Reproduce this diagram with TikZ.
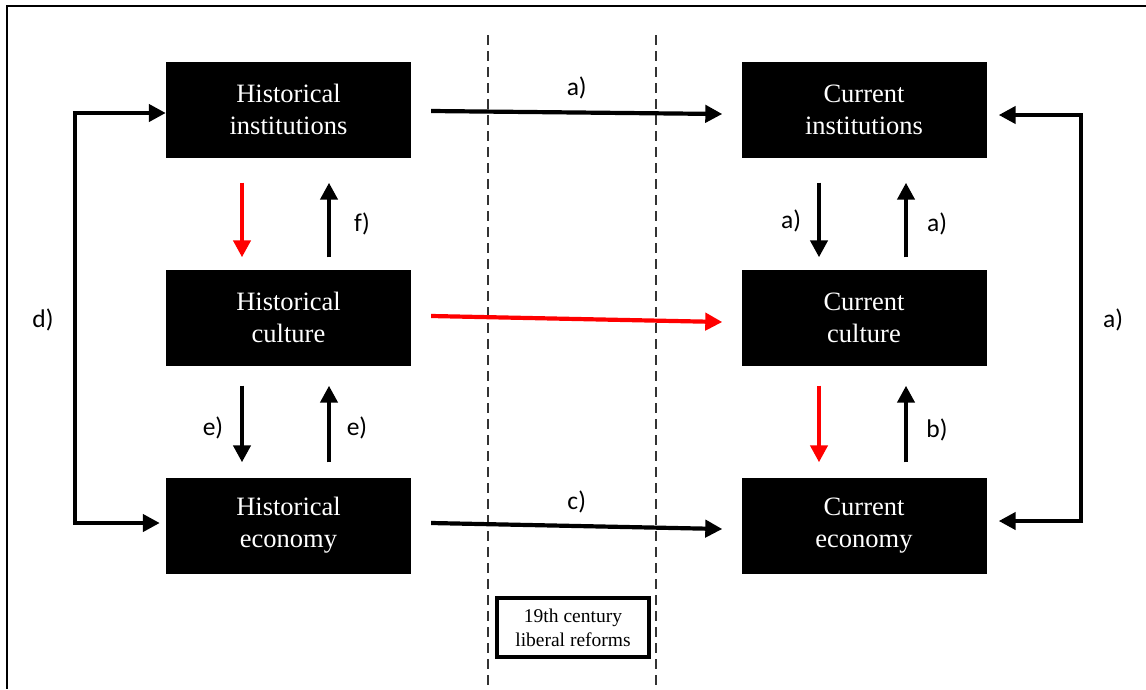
\documentclass[tikz,border=0pt]{standalone}
\usepackage{fontspec}
\setmainfont{Liberation Serif}
\newfontfamily\labfont{Carlito}
\usetikzlibrary{arrows.meta,calc}
\begin{document}
\begin{tikzpicture}[x=1pt,y=-1pt,
  blk/.style={fill=black,text=white,minimum width=245pt,minimum height=96pt,inner sep=0pt,align=center,font=\fontsize{26.5}{32}\selectfont},
  arr/.style={line width=4.2pt,-{Triangle[length=17pt,width=17pt]}},
  redarr/.style={arr,red},
  lab/.style={font=\labfont\fontsize{25.5}{28}\selectfont},
  dashln/.style={draw=black!80,line width=2pt,dash pattern=on 10pt off 6pt}]
\useasboundingbox (0,0) rectangle (1146,689);
\draw[line width=2.2pt] (1146,6) -- (7,6) -- (7,689);
% dashed lines
\coordinate (d1t) at (488,35); \coordinate (d1b) at (488,689);
\coordinate (d2t) at (656,35); \coordinate (d2b) at (656,689);
\draw[dashln] (d1t) -- (d1b);
\draw[dashln] (d2t) -- (d2b);
% boxes
\node[blk] (hi) at (288.5,109.5) {Historical\\institutions};
\node[blk] (hc) at (288.5,317.5) {Historical\\culture};
\node[blk] (he) at (288.5,525.5) {Historical\\economy};
\node[blk] (ci) at (864,109.5) {Current\\institutions};
\node[blk] (cc) at (864,317.5) {Current\\culture};
\node[blk] (ce) at (864,525.5) {Current\\economy};
\node[draw,line width=3.5pt,fill=white,minimum width=152pt,minimum height=59pt,align=center,font=\fontsize{19.5}{24}\selectfont] (ref) at (573,627.5) {19th century\\liberal reforms};
% horizontal arrows
\draw[arr] ($(hi.east)+(20,1.5)$) -- ($(ci.west)+(-19,4.5)$) node[lab,midway,above=8pt] (la1) {a)};
\draw[redarr] ($(hc.east)+(20,-1.5)$) -- ($(cc.west)+(-19,4.5)$);
\draw[arr] ($(he.east)+(20,-2.5)$) -- ($(ce.west)+(-19,3.5)$) node[lab,midway,above=8pt] (lc) {c)};
% left vertical arrows
\draw[redarr] ($(hi.south)+(-46.5,25)$) -- ($(hc.north)+(-46.5,-12)$);
\draw[arr] ($(hc.north)+(40.5,-12)$) -- ($(hi.south)+(40.5,25)$);
\node[lab] (lf) at (362,224) {f)};
\draw[arr] ($(hc.south)+(-46.5,20)$) -- ($(he.north)+(-46.5,-15)$);
\draw[arr] ($(he.north)+(40.5,-15)$) -- ($(hc.south)+(40.5,20)$);
\node[lab] (le1) at (213,428) {e)};
\node[lab] (le2) at (357,428) {e)};
% right vertical arrows
\draw[arr] ($(ci.south)+(-45,25)$) -- ($(cc.north)+(-45,-12)$);
\draw[arr] ($(cc.north)+(42,-12)$) -- ($(ci.south)+(42,25)$);
\node[lab] (la2) at (791,221) {a)};
\node[lab] (la3) at (937,224) {a)};
\draw[redarr] ($(cc.south)+(-45,20)$) -- ($(ce.north)+(-45,-15)$);
\draw[arr] ($(ce.north)+(42,-15)$) -- ($(cc.south)+(42,20)$);
\node[lab] (lb) at (937,430) {b)};
% d) bracket
\coordinate (lt) at (75,113);
\coordinate (lb2) at (75,523);
\draw[line width=4.2pt] (lt) -- (lb2);
\draw[arr] ([xshift=-2.1pt]lt) -- ($(hi.west)+(0,3.5)$);
\draw[arr] ([xshift=-2.1pt]lb2) -- ($(he.west)+(-6,-2.5)$);
\node[lab] (ld) at (43,320) {d)};
% right a) bracket
\coordinate (rt) at (1081,115);
\coordinate (rb) at (1081,521);
\draw[line width=4.2pt] (rt) -- (rb);
\draw[arr] ([xshift=2.1pt]rt) -- ($(ci.east)+(12,5.5)$);
\draw[arr] ([xshift=2.1pt]rb) -- ($(ce.east)+(12,-4.5)$);
\node[lab] (la4) at (1113,320) {a)};
\end{tikzpicture}
\end{document}
